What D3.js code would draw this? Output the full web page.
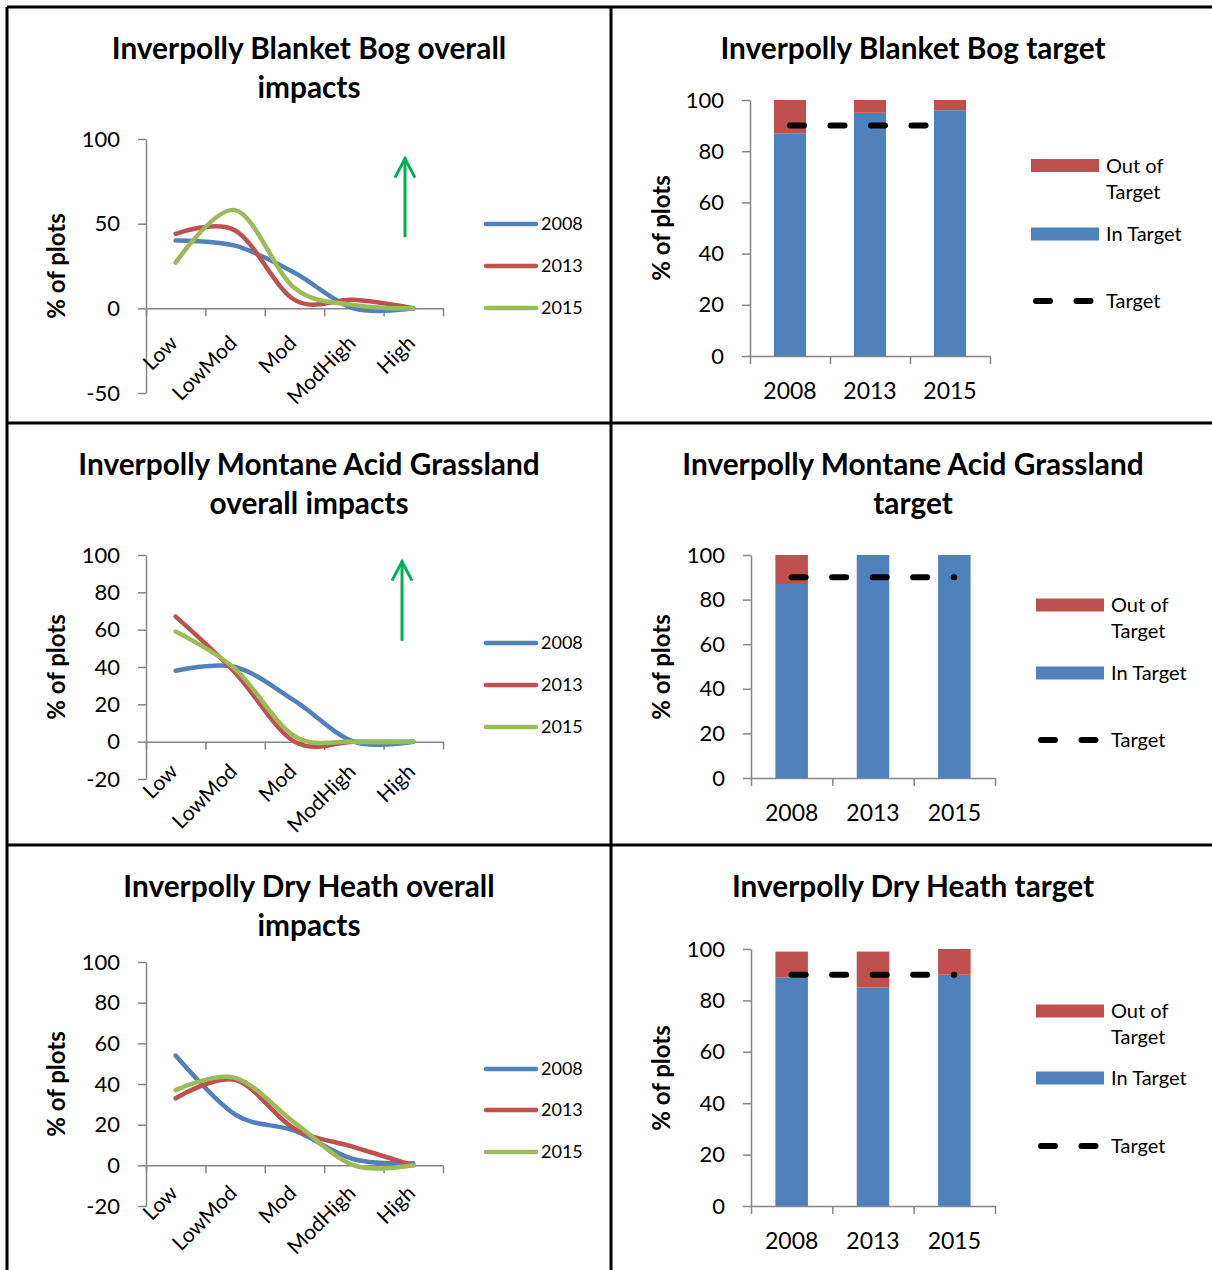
<!DOCTYPE html>
<html>
<head>
<meta charset="utf-8">
<script src="https://cdn.jsdelivr.net/npm/d3@7"></script>
<style>
  html, body { margin: 0; padding: 0; background: #fff; }
  svg { display: block; font-family: Lato, "Open Sans", sans-serif; }
</style>
</head>
<body>
<svg id="chart" width="1212" height="1270"></svg>
<script>
// ---- Data -------------------------------------------------------------
const impactLevels = ["Low", "LowMod", "Mod", "ModHigh", "High"];
const surveyYears = ["2008", "2013", "2015"];

// Share of plots (%) in each impact class
const bogImpact2008 = [40, 37, 21, 0, 0];
const bogImpact2013 = [44, 46, 5, 5, 0];
const bogImpact2015 = [27, 58, 12, 2, 0];

const grassImpact2008 = [38, 40, 22, 0, 0];
const grassImpact2013 = [67, 37, 0, 0, 0];
const grassImpact2015 = [59, 39, 3, 0, 0];

const heathImpact2008 = [54, 25, 17, 3, 1];
const heathImpact2013 = [33, 42, 18, 9, 0];
const heathImpact2015 = [37, 43, 21, 0, 0];

// Share of plots (%) in / out of target, by survey year
const bogInTarget = [87, 95, 96];
const bogOutTarget = [13, 5, 4];
const grassInTarget = [87, 100, 100];
const grassOutTarget = [13, 0, 0];
const heathInTarget = [89, 85, 90];
const heathOutTarget = [10, 14, 10];
const targetLevel = [90, 90, 90];

// Axis ticks
const bogImpactTicks = [-50, 0, 50, 100];
const impactTicks = [-20, 0, 20, 40, 60, 80, 100];
const targetTicks = [0, 20, 40, 60, 80, 100];

// ---- Styling -----------------------------------------------------------
const yearColors = ["#4f81bd", "#c0504d", "#9bbb59"];
const inColor = "#4f81bd";
const outColor = "#c0504d";
const axisColor = "#868686";
const arrowColor = "#00b050";
const plainNumber = d => String(d);   // keeps an ordinary hyphen for negatives

const svg = d3.select("#chart");
svg.append("rect").attr("width", 1212).attr("height", 1270).attr("fill", "#fff");

function styleAxis(sel, fontSize) {
  sel.attr("font-family", null).attr("font-size", fontSize);
  sel.select(".domain").attr("stroke", axisColor).attr("stroke-width", 1.5);
  sel.selectAll(".tick line").attr("stroke", axisColor).attr("stroke-width", 1.5);
  sel.selectAll(".tick text").attr("fill", "#000");
}

function title(g, lines, cx, y0) {
  lines.forEach((line, i) => {
    g.append("text")
      .attr("x", cx).attr("y", y0 + i * 39)
      .attr("dy", "0.35em")
      .attr("text-anchor", "middle")
      .attr("font-weight", "bold")
      .attr("font-size", 29.8)
      .text(line);
  });
}

function yTitle(g, cx, cy) {
  g.append("text")
    .attr("transform", `translate(${cx},${cy}) rotate(-90)`)
    .attr("dy", "0.35em")
    .attr("text-anchor", "middle")
    .attr("font-weight", "bold")
    .attr("font-size", 24)
    .text("% of plots");
}

// ---- Impact line panels -----------------------------------------------
function impactPanel(cfg) {
  const g = svg.append("g");
  const x = d3.scaleBand().domain(impactLevels).range([cfg.x0, cfg.x1]);
  const xEdge = d3.scaleLinear().domain([0, impactLevels.length]).range([cfg.x0, cfg.x1]);
  const y = d3.scaleLinear().domain(cfg.yDomain).range([cfg.yBottom, cfg.yTop]);
  const cx = d => x(d) + x.bandwidth() / 2;

  title(g, cfg.title, 309, cfg.titleY);
  yTitle(g, 57, cfg.yTitleY);

  g.append("g")
    .attr("transform", `translate(${cfg.x0},0)`)
    .call(d3.axisLeft(y).tickValues(cfg.ticks).tickFormat(plainNumber)
      .tickSize(8).tickSizeOuter(0).tickPadding(18))
    .call(s => styleAxis(s, 22));

  g.append("g")
    .attr("transform", `translate(0,${y(0)})`)
    .call(d3.axisBottom(xEdge).tickValues(d3.range(0, impactLevels.length + 1))
      .tickSize(8).tickSizeOuter(0).tickFormat(""))
    .call(s => styleAxis(s, 21));

  g.selectAll(".cat").data(impactLevels).join("text")
    .attr("transform", d => `translate(${cx(d) - 2},${y(0) + cfg.labelGap}) rotate(-45)`)
    .attr("text-anchor", "end")
    .attr("dy", "0.35em")
    .attr("font-size", 21)
    .text(d => d);

  const line = d3.line()
    .x((d, i) => cx(impactLevels[i]))
    .y(d => y(d))
    .curve(d3.curveCatmullRom.alpha(0));

  cfg.series.forEach((vals, i) => {
    g.append("path")
      .attr("d", line(vals))
      .attr("fill", "none")
      .attr("stroke", yearColors[i])
      .attr("stroke-width", 4.5)
      .attr("stroke-linecap", "round")
      .attr("stroke-linejoin", "round");
  });

  // legend
  surveyYears.forEach((yr, i) => {
    const ly = cfg.legendY[i];
    g.append("line")
      .attr("x1", 486).attr("x2", 536).attr("y1", ly).attr("y2", ly)
      .attr("stroke", yearColors[i]).attr("stroke-width", 4.5).attr("stroke-linecap", "round");
    g.append("text")
      .attr("x", 541).attr("y", ly).attr("dy", "0.35em")
      .attr("font-size", 18).text(yr);
  });

  // upward arrow annotation
  if (cfg.arrow) {
    const ax = xEdge(cfg.arrow.at);
    const yA = y(cfg.arrow.from), yB = y(cfg.arrow.to);
    g.append("line")
      .attr("x1", ax).attr("x2", ax).attr("y1", yA).attr("y2", yB)
      .attr("stroke", arrowColor).attr("stroke-width", 3);
    g.append("path")
      .attr("d", `M${ax - 10},${yB + 20}L${ax},${yB + 1}L${ax + 10},${yB + 20}`)
      .attr("fill", "none").attr("stroke", arrowColor).attr("stroke-width", 3)
      .attr("stroke-linejoin", "miter");
  }
}

// ---- Target bar panels --------------------------------------------------
function targetPanel(cfg) {
  const g = svg.append("g");
  const x = d3.scaleBand().domain(surveyYears).range([cfg.x0, cfg.x1])
    .paddingInner(0.6).paddingOuter(0.3);
  const xEdge = d3.scaleLinear().domain([0, surveyYears.length]).range([cfg.x0, cfg.x1]);
  const y = d3.scaleLinear().domain([0, 100]).range([cfg.yBottom, cfg.yTop]);
  const cx = d => x(d) + x.bandwidth() / 2;

  title(g, cfg.title, 913, cfg.titleY);
  yTitle(g, 662, cfg.yTitleY);

  const rows = surveyYears.map((yr, i) => ({ year: yr, inT: cfg.inT[i], outT: cfg.outT[i] }));
  const stacked = d3.stack().keys(["inT", "outT"])(rows);
  const colors = [inColor, outColor];

  stacked.forEach((layer, k) => {
    g.selectAll(null).data(layer).join("rect")
      .attr("x", d => x(d.data.year))
      .attr("width", x.bandwidth())
      .attr("y", d => y(d[1]))
      .attr("height", d => Math.max(0, y(d[0]) - y(d[1])))
      .attr("fill", colors[k]);
  });

  g.append("g")
    .attr("transform", `translate(${cfg.x0},0)`)
    .call(d3.axisLeft(y).tickValues(targetTicks).tickFormat(plainNumber)
      .tickSize(8).tickSizeOuter(0).tickPadding(18))
    .call(s => styleAxis(s, 22));

  g.append("g")
    .attr("transform", `translate(0,${y(0)})`)
    .call(d3.axisBottom(xEdge).tickValues(d3.range(0, surveyYears.length + 1))
      .tickSize(8).tickSizeOuter(0).tickFormat(""))
    .call(s => styleAxis(s, 23));

  g.selectAll(".yr").data(surveyYears).join("text")
    .attr("x", d => cx(d)).attr("y", y(0) + 35)
    .attr("dy", "0.35em").attr("text-anchor", "middle")
    .attr("font-size", 23).text(d => d);

  // target line
  const tline = d3.line().x((d, i) => cx(surveyYears[i])).y(d => y(d));
  g.append("path")
    .attr("d", tline(targetLevel))
    .attr("fill", "none").attr("stroke", "#000").attr("stroke-width", 6)
    .attr("stroke-linecap", "round").attr("stroke-dasharray", "14 26.5");

  // legend
  const lx = cfg.legendX, tx = cfg.legendTextX;
  g.append("rect").attr("x", lx).attr("y", cfg.outY - 6.5).attr("width", 68).attr("height", 13).attr("fill", outColor);
  g.append("text").attr("x", tx).attr("y", cfg.outY).attr("dy", "0.35em").attr("font-size", 20).text("Out of");
  g.append("text").attr("x", tx).attr("y", cfg.outY + 26).attr("dy", "0.35em").attr("font-size", 20).text("Target");
  g.append("rect").attr("x", lx).attr("y", cfg.inY - 6.5).attr("width", 68).attr("height", 13).attr("fill", inColor);
  g.append("text").attr("x", tx).attr("y", cfg.inY).attr("dy", "0.35em").attr("font-size", 20).text("In Target");
  g.append("line")
    .attr("x1", lx + 5).attr("x2", lx + 60).attr("y1", cfg.tY).attr("y2", cfg.tY)
    .attr("stroke", "#000").attr("stroke-width", 6)
    .attr("stroke-linecap", "round").attr("stroke-dasharray", "14 26.5");
  g.append("text").attr("x", tx).attr("y", cfg.tY).attr("dy", "0.35em").attr("font-size", 20).text("Target");
}

// ---- Panels -----------------------------------------------------------
impactPanel({
  title: ["Inverpolly Blanket Bog overall", "impacts"], titleY: 49,
  x0: 146, x1: 443, yDomain: [-50, 100], yBottom: 393, yTop: 139,
  ticks: bogImpactTicks, yTitleY: 266, labelGap: 31,
  series: [bogImpact2008, bogImpact2013, bogImpact2015],
  legendY: [224, 266, 308],
  arrow: { at: 4.36, from: 42, to: 89 }
});

impactPanel({
  title: ["Inverpolly Montane Acid Grassland", "overall impacts"], titleY: 465,
  x0: 146, x1: 443, yDomain: [-20, 100], yBottom: 779, yTop: 555,
  ticks: impactTicks, yTitleY: 667, labelGap: 26,
  series: [grassImpact2008, grassImpact2013, grassImpact2015],
  legendY: [643, 685, 727],
  arrow: { at: 4.31, from: 54, to: 97 }
});

impactPanel({
  title: ["Inverpolly Dry Heath overall", "impacts"], titleY: 887,
  x0: 146, x1: 443, yDomain: [-20, 100], yBottom: 1206, yTop: 962,
  ticks: impactTicks, yTitleY: 1084, labelGap: 24,
  series: [heathImpact2008, heathImpact2013, heathImpact2015],
  legendY: [1069, 1110, 1152]
});

targetPanel({
  title: ["Inverpolly Blanket Bog target"], titleY: 49,
  x0: 750, x1: 990, yBottom: 356, yTop: 100, yTitleY: 228,
  inT: bogInTarget, outT: bogOutTarget,
  legendX: 1031, legendTextX: 1106, outY: 165.5, inY: 234, tY: 301
});

targetPanel({
  title: ["Inverpolly Montane Acid Grassland", "target"], titleY: 465,
  x0: 751, x1: 995, yBottom: 778, yTop: 555, yTitleY: 667,
  inT: grassInTarget, outT: grassOutTarget,
  legendX: 1036, legendTextX: 1111, outY: 605, inY: 673, tY: 740
});

targetPanel({
  title: ["Inverpolly Dry Heath target"], titleY: 887,
  x0: 751, x1: 995, yBottom: 1206, yTop: 949, yTitleY: 1078,
  inT: heathInTarget, outT: heathOutTarget,
  legendX: 1036, legendTextX: 1111, outY: 1011, inY: 1078, tY: 1146
});

// ---- Panel frame --------------------------------------------------------
const frame = svg.append("g").attr("stroke", "#000").attr("stroke-width", 3).attr("fill", "none");
frame.append("path").attr("d", "M7,7H1212M7,7V1270M611,7V1270M7,423H1212M7,845H1212");
</script>
</body>
</html>
